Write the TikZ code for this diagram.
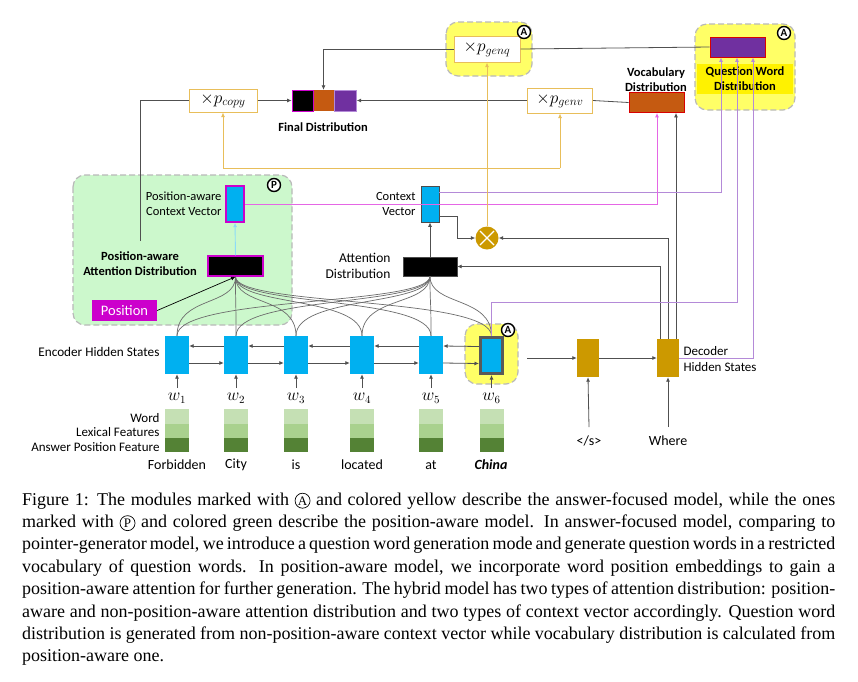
\documentclass[tikz,border=0pt]{standalone}
\usepackage{fontspec}
\setmainfont{Liberation Serif}
\newfontfamily\carl{Carlito}
\usetikzlibrary{calc,arrows.meta}
\definecolor{cyanb}{HTML}{00B0F0}
\definecolor{goldd}{HTML}{CC9900}
\definecolor{goldl}{HTML}{E8BE5A}
\definecolor{purp}{HTML}{7030A0}
\definecolor{purl}{HTML}{B48AD8}
\definecolor{magl}{HTML}{E566E5}
\definecolor{mag}{HTML}{CC00CC}
\definecolor{orng}{HTML}{C55A11}
\definecolor{grnA}{HTML}{C5E0B4}
\definecolor{grnB}{HTML}{A9D18E}
\definecolor{grnC}{HTML}{548235}
\definecolor{pgreen}{HTML}{CCF8CC}
\definecolor{yel}{HTML}{FFFF66}
\definecolor{linegray}{HTML}{505050}
\newcommand{\capcirc}[1]{\tikz[baseline=(cc.base)]\node[circle,draw,line width=0.7pt,inner sep=0.3pt,minimum size=15pt,font=\fontsize{13}{13}\selectfont](cc){#1};}
\begin{document}
\begin{tikzpicture}[x=1pt,y=-1pt,
  every node/.style={font=\carl\fontsize{12.5}{15}\selectfont},
  ln/.style={draw=linegray,line width=0.8pt},
  arr/.style={ln,-{Latex[length=4.5pt,width=4pt]}},
  goldln/.style={draw=goldl,line width=0.9pt},
  goldarr/.style={goldln,-{Latex[length=4.5pt,width=4pt]}},
  purarr/.style={draw=purl,line width=1pt,-{Latex[length=4.5pt,width=4pt]}},
  magarr/.style={draw=magl,line width=1pt,-{Latex[length=4.5pt,width=4pt]}},
  curvln/.style={draw=gray!85!black,line width=0.7pt},
  bgbox/.style={dashed,draw=gray!55,line width=1.2pt,dash pattern=on 6pt off 3pt,rounded corners=12pt},
  xbox/.style={rectangle,draw=goldl,line width=1pt,fill=white,inner sep=0pt,font=\fontsize{16.5}{16.5}\selectfont},
  rbox/.style={rectangle,inner sep=0pt},
  circmark/.style={circle,draw=black,line width=1.4pt,fill=white,inner sep=0pt,minimum size=13pt,font=\carl\bfseries\fontsize{11}{11}\selectfont},
  bl/.style={font=\carl\bfseries\fontsize{12.5}{15}\selectfont},
  capline/.style={anchor=base west,inner sep=0pt,font=\fontsize{18}{22}\selectfont}
]
\useasboundingbox (0,0) rectangle (858,681);
\fill[white] (0,0) rectangle (858,681);

% backgrounds
\draw[bgbox,fill=pgreen] (73,175) rectangle (292,325);
\draw[bgbox,fill=yel] (446,22) rectangle (532,76);
\draw[bgbox,fill=yel] (695,24) rectangle (795,110);
\draw[bgbox,fill=yel] (465,324) rectangle (518,384);
\fill[yellow] (697,64) rectangle (793,94);

% top row
\node[xbox,minimum width=68pt,minimum height=23pt] (pcopy) at (223,100.5) {$\times p_{copy}$};
\node[xbox,minimum width=66pt,minimum height=26pt] (pgenq) at (487,49) {$\times p_{genq}$};
\node[xbox,minimum width=65pt,minimum height=25pt] (pgenv) at (560,100.5) {$\times p_{genv}$};
\node[rbox,fill=orng,minimum width=21pt,minimum height=21pt] (f2) at (323.5,100.5) {};
\node[rbox,fill=purp,draw=purl,minimum width=22pt,minimum height=21pt] (f3) at (345.5,100.5) {};
\node[rbox,fill=black,draw=mag,line width=0.8pt,minimum width=21pt,minimum height=21pt] (f1) at (302.5,100.5) {};
\node[bl] (flab) at (323,127) {Final Distribution};
\node[rbox,fill=orng,draw=red!85!black,line width=0.8pt,minimum width=55pt,minimum height=20pt] (voc) at (656.5,102.5) {};
\node[bl,align=center] (vlab) at (656,80) {Vocabulary\\Distribution};
\node[rbox,fill=purp,draw=red!85!black,line width=0.8pt,minimum width=55pt,minimum height=20pt] (qwd) at (737.5,47) {};
\node[bl,align=center] (qlab) at (745,79) {Question Word\\Distribution};

% middle
\node[circle,fill=goldd,minimum size=23pt,inner sep=0pt] (mult) at (487,238) {};
\draw[white,line width=1.1pt] ($(mult)+(-7,-7)$) -- ($(mult)+(7,7)$) ($(mult)+(-7,7)$) -- ($(mult)+(7,-7)$);
\node[rbox,fill=cyanb,draw=black!70,line width=0.8pt,minimum width=18pt,minimum height=36pt] (ctx) at (430,204) {};
\node[rbox,fill=black,draw=black!70,minimum width=54pt,minimum height=19pt] (att) at (430,266.5) {};
\node[align=right,anchor=east] (ctxlab) at (419,204) {Context\\Vector};
\node[align=right,anchor=east,font=\carl\fontsize{13.5}{16}\selectfont] (attlab) at (394,266) {Attention\\Distribution};
\node[rbox,fill=cyanb,draw=mag,line width=1.2pt,minimum width=18pt,minimum height=36pt] (pactx) at (235,204) {};
\node[rbox,fill=black,draw=mag,line width=1.5pt,minimum width=55pt,minimum height=20pt] (paatt) at (235.5,266) {};
\node[align=right,anchor=east] (pactxlab) at (225,204) {Position-aware\\Context Vector};
\node[bl,align=center] (paattlab) at (140,264) {Position-aware\\Attention Distribution};
\node[rbox,fill=mag,minimum width=65pt,minimum height=21pt,text=white,font=\carl\fontsize{14.5}{14.5}\selectfont] (pos) at (124.5,310.5) {Position};

% encoder
\foreach \i/\x in {1/177,2/236,3/296,4/362,5/431}{
  \node[rbox,fill=cyanb,minimum width=24pt,minimum height=38pt] (e\i) at (\x,355) {};
}
\node[rbox,fill=cyanb,draw=black!65,line width=3pt,minimum width=22pt,minimum height=36pt] (e6) at (491.5,355.5) {};
\node[anchor=east,font=\carl\fontsize{13.2}{15}\selectfont] (enclab) at (163,352) {Encoder Hidden States};

% attention curves
\foreach \i in {1,...,6}{
  \draw[curvln] (paatt.south) .. controls +(0,30) and +(0,-40) .. (e\i.north);
  \draw[curvln] (att.south) .. controls +(0,30) and +(0,-40) .. (e\i.north);
}

% marks
\node[circmark] (m1) at (524,32) {A};
\node[circmark] (m2) at (784,33) {A};
\node[circmark] (m3) at (274,185) {P};
\node[circmark] (m4) at (508,330) {A};

% encoder arrows
\foreach \i/\j in {1/2,2/3,3/4,4/5,5/6}{
  \draw[arr] ($(e\j.west)+(0,-9)$) -- ($(e\i.east)+(0,-9)$);
  \draw[arr] ($(e\i.east)+(0,8)$) -- ($(e\j.west)+(0,8)$);
}

% words and features
\foreach \i/\x in {1/177,2/236,3/296,4/362,5/431,6/491.5}{
  \node[inner sep=1pt,font=\fontsize{16}{16}\selectfont] (wl\i) at (\x,398) {$w_{\i}$};
  \draw[arr] (\x,388) -- (e\i.south);
  \fill[grnA] (\x-12,409) rectangle (\x+12,424);
  \fill[grnB] (\x-12,424) rectangle (\x+12,438);
  \fill[grnC] (\x-12,438) rectangle (\x+12,452);
}
\node[anchor=east,font=\carl\fontsize{13}{14}\selectfont] (lw) at (163,418) {Word};
\node[anchor=east,font=\carl\fontsize{13}{14}\selectfont] (ll) at (163,432) {Lexical Features};
\node[anchor=east,font=\carl\fontsize{13}{14}\selectfont] (la) at (163,447) {Answer Position Feature};
\node[font=\carl\fontsize{14}{15}\selectfont] (t1) at (177,465) {Forbidden};
\node[font=\carl\fontsize{14}{15}\selectfont] (t2) at (236,465) {City};
\node[font=\carl\fontsize{14}{15}\selectfont] (t3) at (296,465) {is};
\node[font=\carl\fontsize{14}{15}\selectfont] (t4) at (362,465) {located};
\node[font=\carl\fontsize{14}{15}\selectfont] (t5) at (431,465) {at};
\node[font=\carl\bfseries\itshape\fontsize{14}{15}\selectfont] (t6) at (491,465) {China};

% decoder
\node[rbox,fill=goldd,minimum width=22pt,minimum height=38pt] (d1) at (588,358) {};
\node[rbox,fill=goldd,minimum width=22pt,minimum height=38pt] (d2) at (668,358) {};
\node[align=left,anchor=west,font=\carl\fontsize{13}{15.5}\selectfont] (declab) at (680,359) {Decoder\\Hidden States};
\coordinate (encout) at (527,358);
\coordinate (sin) at (589,427);
\coordinate (win) at (668,427);
\node[font=\carl\fontsize{14}{15}\selectfont] (slab) at (589,441) {</s>};
\node[font=\carl\fontsize{14}{15}\selectfont] (wlab) at (668,441) {Where};
\draw[arr] (encout) -- (d1.west);
\draw[arr] (d1.east) -- (d2.west);
\draw[arr] (sin) -- (d1.south);
\draw[arr] (win) -- (d2.south);

% connectors
\coordinate (lstart) at (140,241);
\draw[ln] (lstart) |- (pcopy.west);
\draw[arr] (pcopy.east) -- (f1.west);
\draw[arr] (pgenq.west) -| (f2.north);
\draw[ln] (pgenq.east) -- (qwd.west);
\draw[ln] (voc.west) -- (pgenv.east);
\draw[arr] (pgenv.west) -- (f3.east);
\draw[arr] (att.north) -- (ctx.south);
\draw[-{Latex[length=4.5pt,width=4pt]},draw=cyanb!45,line width=0.9pt] (paatt.north) -- (pactx.south);
\draw[-{Latex[length=4.5pt,width=4pt]},draw=black,line width=0.7pt] (pos.east) -- (paatt.south);
\draw[arr] ($(ctx.east)+(0,12)$) -- ++(18,0) |- (mult.west);
\draw[arr] (d2.north) |- (mult.east);
\coordinate (d2a) at ($(d2.north)+(-8,0)$);
\coordinate (d2c) at ($(d2.north)+(8,0)$);
\draw[arr] (d2a) |- (att.east);
\draw[arr] (d2c) -- (d2c |- voc.south);
\coordinate (vin) at (657,0);
\coordinate (qin1) at (721,0);
\coordinate (qin2) at (737,0);
\coordinate (qin3) at (753,0);
\draw[purarr] ($(ctx.east)+(0,-12)$) -| (qin1 |- qwd.south);
\draw[purarr] (e6.north) -- ++(0,-34) -| (qin2 |- qwd.south);
\draw[purarr] (d2.east) -| (qin3 |- qwd.south);
\draw[magarr] (pactx.east) -| (vin |- voc.south);
\coordinate (gl) at (223,168);
\coordinate (gr) at (560,168);
\draw[goldln] (gl) -- (gr);
\draw[goldarr] (gl) -- (pcopy.south);
\draw[goldarr] (gr) -- (pgenv.south);
\draw[goldarr] (mult.north) -- (pgenq.south);

% caption
\node[capline] (c1) at (22,505) {\makebox[813pt][s]{Figure 1: The modules marked with \capcirc{A} and colored yellow describe the answer-focused model, while the ones}};
\node[capline] (c2) at (22,527.4) {\makebox[813pt][s]{marked with \capcirc{P} and colored green describe the position-aware model. In answer-focused model, comparing to}};
\node[capline] (c3) at (22,549.8) {\makebox[813pt][s]{pointer-generator model, we introduce a question word generation mode and generate question words in a restricted}};
\node[capline] (c4) at (22,572.2) {\makebox[813pt][s]{vocabulary of question words. In position-aware model, we incorporate word position embeddings to gain a}};
\node[capline] (c5) at (22,594.6) {\makebox[813pt][s]{position-aware attention for further generation. The hybrid model has two types of attention distribution: position-}};
\node[capline] (c6) at (22,617) {\makebox[813pt][s]{aware and non-position-aware attention distribution and two types of context vector accordingly. Question word}};
\node[capline] (c7) at (22,639.4) {\makebox[813pt][s]{distribution is generated from non-position-aware context vector while vocabulary distribution is calculated from}};
\node[capline] (c8) at (22,661.8) {position-aware one.};
\end{tikzpicture}
\end{document}
